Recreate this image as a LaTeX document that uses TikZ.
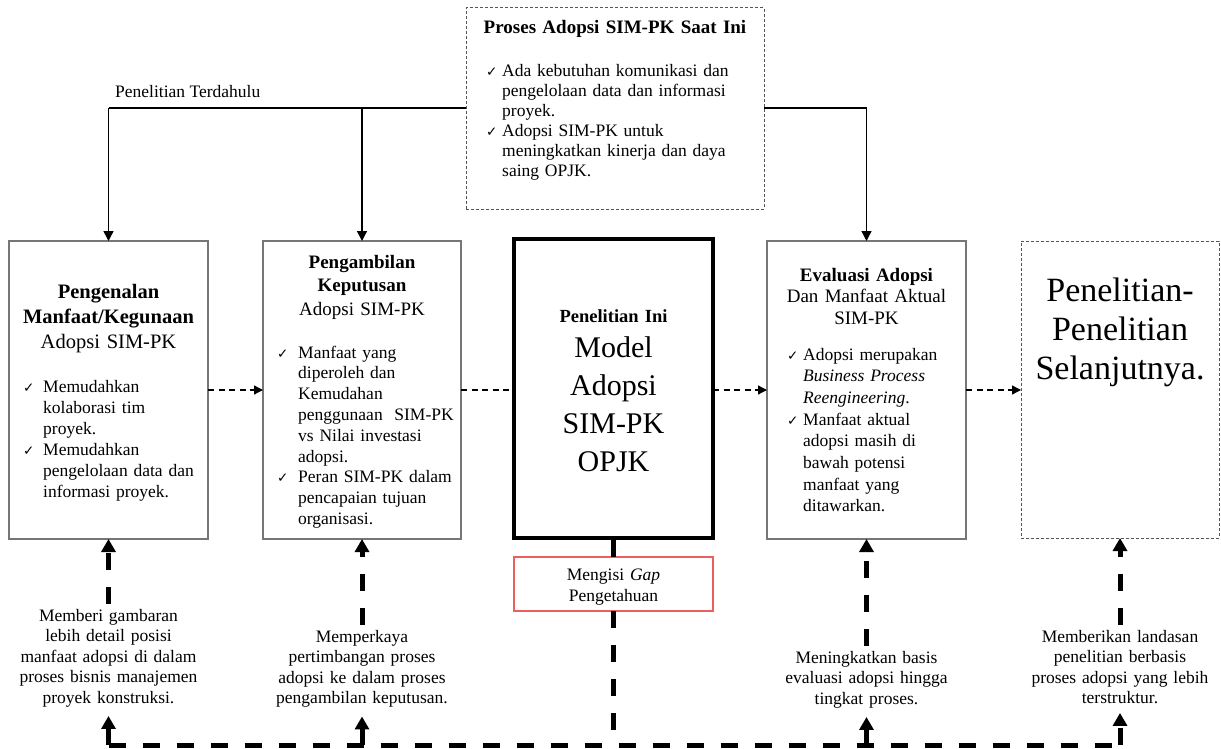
\documentclass[tikz,border=0pt]{standalone}
\usepackage{fontspec}
\setmainfont{Liberation Serif}
\newfontfamily\symf{DejaVu Sans}
\usetikzlibrary{arrows.meta}
\definecolor{boxgray}{RGB}{118,118,118}
\definecolor{dotgray}{RGB}{85,85,85}
\definecolor{gapred}{RGB}{235,95,95}
\newdimen\chkdp
\newcommand\sbody{\fontsize{17.5}{20.5}\selectfont}
\newcommand\chk[2]{\noindent\makebox[#1][l]{\symf\fontsize{13.5}{13.5}\selectfont ✓}\parbox[t]{\dimexpr\linewidth-#1\relax}{\raggedright #2\par\global\chkdp=\prevdepth}\par\prevdepth=\chkdp}
\begin{document}
\begin{tikzpicture}[x=1pt,y=-1pt,
  sbox/.style={draw=boxgray,line width=1.2pt,fill=white,inner sep=0pt,outer sep=0pt,anchor=north west},
  dbox/.style={draw=dotgray,line width=1pt,dash pattern=on 3pt off 2pt,fill=white,inner sep=0pt,outer sep=0pt,anchor=north west},
  txt/.style={inner sep=0pt,anchor=base,align=center},
  itm/.style={inner sep=0pt,anchor=base west,align=left},
  conn/.style={line width=1.4pt},
  stip/.style={-{Triangle[width=10pt,length=10pt]}},
  thindash/.style={line width=1.3pt,dash pattern=on 6pt off 4.5pt},
  dtip/.style={-{Triangle[width=9pt,length=9pt]}},
  heavy/.style={line width=5pt,dash pattern=on 17pt off 17pt},
  btip/.style={-{Triangle[width=14pt,length=13pt]}},
  lab/.style={inner xsep=0pt,inner ysep=5pt,anchor=base,align=center,text width=210pt,font=\sbody},
]
\useasboundingbox (0,0) rectangle (1221,749);

% main boxes
\node[sbox,minimum width=199pt,minimum height=298pt] (b1) at (9,241) {};
\node[sbox,minimum width=198pt,minimum height=298pt] (b2) at (263,241) {};
\node[draw,line width=4.5pt,fill=white,inner sep=0pt,outer sep=0pt,anchor=north west,minimum width=199pt,minimum height=299pt] (b3) at (514,239) {};
\node[sbox,minimum width=199pt,minimum height=298pt] (b4) at (767,241) {};
\node[dbox,minimum width=198pt,minimum height=297pt] (b5) at (1021,241) {};
\node[draw=gapred,line width=1.2pt,fill=white,inner sep=0pt,outer sep=0pt,anchor=north west,minimum width=199pt,minimum height=54pt] (gap) at (514,557) {};

% top connectors
\path (0,108) coordinate (ty);
\draw[conn] (b1.north |- ty) -- (b4.north |- ty);
\draw[conn,stip] (b1.north |- ty) -- (b1.north);
\draw[conn,stip] (b2.north |- ty) -- (b2.north);
\draw[conn,stip] (b4.north |- ty) -- (b4.north);
\node[anchor=base west,inner sep=0pt,font=\sbody] (pt) at (115,98) {Penelitian Terdahulu};

% top box
\node[dbox,minimum width=298pt,minimum height=201pt] (top) at (466,8) {};
\node[txt,text width=298pt,font=\fontsize{19}{23}\selectfont\bfseries] (toptitle) at (615,34) {Proses Adopsi SIM-PK Saat Ini};
\node[itm,text width=270pt,font=\fontsize{17.5}{20}\selectfont] (topitems) at (486,77)
 {\chk{16pt}{Ada kebutuhan komunikasi dan\\pengelolaan data dan informasi\\proyek.}
  \chk{16pt}{Adopsi SIM-PK untuk\\meningkatkan kinerja dan daya\\saing OPJK.}};

% box 1 contents
\node[txt,text width=199pt,font=\fontsize{20.5}{25}\selectfont] (t1) at (108.5,298)
 {\textbf{Pengenalan}\\\textbf{Manfaat/Kegunaan}\\Adopsi SIM-PK};
\node[itm,text width=185pt,font=\fontsize{17.5}{21}\selectfont] (i1) at (23,392)
 {\chk{20pt}{Memudahkan\\kolaborasi tim\\proyek.}
  \chk{20pt}{Memudahkan\\pengelolaan data dan\\informasi proyek.}};

% box 2 contents
\node[txt,text width=198pt,font=\fontsize{19}{23.5}\selectfont] (t2) at (362,268)
 {\textbf{Pengambilan}\\\textbf{Keputusan}\\Adopsi SIM-PK};
\node[itm,text width=182pt,font=\fontsize{17.5}{20.8}\selectfont] (i2) at (277,358)
 {\chk{21pt}{Manfaat yang\\diperoleh dan\\Kemudahan\\penggunaan\ \ SIM-PK\\vs Nilai investasi\\adopsi.}
  \chk{21pt}{Peran SIM-PK dalam\\pencapaian tujuan\\organisasi.}};

% box 3 contents
\node[txt,text width=199pt,font=\fontsize{18.5}{22}\selectfont\bfseries] (t3a) at (613.5,322) {Penelitian Ini};
\node[txt,text width=199pt,font=\fontsize{30}{38}\selectfont] (t3b) at (613.5,357) {Model\\Adopsi\\SIM-PK\\OPJK};

% box 4 contents
\node[txt,text width=199pt,font=\fontsize{19}{21.7}\selectfont] (t4) at (866.5,281)
 {\textbf{Evaluasi Adopsi}\\Dan Manfaat Aktual\\SIM-PK};
\node[itm,text width=175pt,font=\fontsize{17.5}{21.7}\selectfont] (i4) at (787,360)
 {\chk{16pt}{Adopsi merupakan\\\textit{Business Process}\\\textit{Reengineering}.}
  \chk{16pt}{Manfaat aktual\\adopsi masih di\\bawah potensi\\manfaat yang\\ditawarkan.}};

% box 5 contents
\node[txt,text width=198pt,font=\fontsize{34}{39}\selectfont] (t5) at (1120,301) {Penelitian-\\Penelitian\\Selanjutnya.};

% gap box contents
\node[txt,text width=199pt,font=\fontsize{17.5}{21}\selectfont] (tg) at (613.5,580) {Mengisi \textit{Gap}\\Pengetahuan};

% horizontal dashed arrows
\draw[thindash,dtip] (b1.east) -- (b2.west);
\draw[thindash] (b2.east) -- (b3.west |- b2.east);
\draw[thindash,dtip] (b3.east |- b4.west) -- (b4.west);
\draw[thindash,dtip] (b4.east) -- (b5.west |- b4.east);

% bottom labels
\node[lab] (l1) at (108.5,621) {Memberi gambaran\\lebih detail posisi\\manfaat adopsi di dalam\\proses bisnis manajemen\\proyek konstruksi.};
\node[lab] (l2) at (362,642) {Memperkaya\\pertimbangan proses\\adopsi ke dalam proses\\pengambilan keputusan.};
\node[lab] (l4) at (866.5,663) {Meningkatkan basis\\evaluasi adopsi hingga\\tingkat proses.};
\node[lab] (l5) at (1120,642) {Memberikan landasan\\penelitian berbasis\\proses adopsi yang lebih\\terstruktur.};

% bottom heavy dashed network
\path (0,745) coordinate (by);
\draw[heavy] (b1.south |- by) -- (b5.south |- by);
\draw[line width=5pt] (b3.south) -- (gap.north);
\draw[heavy] (gap.south) -- (gap.south |- by);
\draw[heavy,btip] (l1.north) -- (b1.south);
\draw[heavy,btip] (l2.north) -- (b2.south);
\draw[heavy,btip] (l4.north) -- (b4.south);
\draw[heavy,btip] (l5.north) -- (b5.south);
\draw[heavy,btip,shorten >=4pt] (b1.south |- by) -- (l1.south);
\draw[heavy,btip,shorten >=4pt] (b2.south |- by) -- (l2.south);
\draw[heavy,btip,shorten >=4pt] (b4.south |- by) -- (l4.south);
\draw[heavy,btip,shorten >=4pt] (b5.south |- by) -- (l5.south);
\end{tikzpicture}
\end{document}
